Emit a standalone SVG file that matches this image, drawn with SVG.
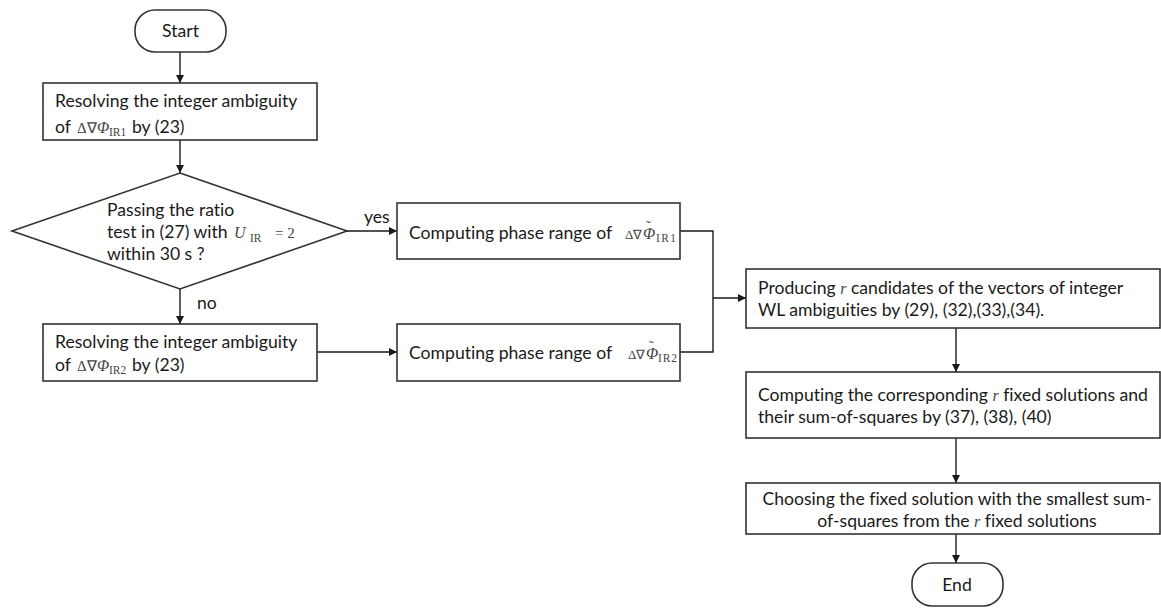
<svg xmlns="http://www.w3.org/2000/svg" width="1161" height="608" viewBox="0 0 1161 608">
<defs>
<marker id="ah" viewBox="0 0 10 10" refX="10" refY="5" markerWidth="8" markerHeight="8" markerUnits="userSpaceOnUse" orient="auto">
<path d="M0,0 L10,5 L0,10 z" fill="#1a1a1a"/>
</marker>
</defs>
<style>
.n{fill:#fff;stroke:#333;stroke-width:1.6}
.t{font-family:Lato,"Liberation Sans",sans-serif;font-size:17.6px;fill:#1a1a1a;font-variant-ligatures:none}
.mt{font-family:"Liberation Serif",serif;fill:#444}
.m{font-size:15px}
.p{font-size:16px;font-style:italic}
.s{font-size:11.5px}
.c{fill:none;stroke:#1a1a1a;stroke-width:1.4}
.a{marker-end:url(#ah)}
</style>
<rect width="1161" height="608" fill="#fff"/>
<g id="connectors">
<line class="c a" x1="180" y1="52" x2="180" y2="83"/>
<line class="c a" x1="180" y1="140" x2="180" y2="173"/>
<line class="c a" x1="180" y1="289" x2="180" y2="324"/>
<line class="c a" x1="347" y1="231" x2="397" y2="231"/>
<line class="c a" x1="317" y1="352" x2="397" y2="352"/>
<polyline class="c" points="680,231 713,231 713,352 680,352"/>
<line class="c a" x1="713" y1="298" x2="746" y2="298"/>
<line class="c a" x1="956" y1="328" x2="956" y2="372"/>
<line class="c a" x1="956" y1="438" x2="956" y2="483"/>
<line class="c a" x1="956" y1="534" x2="956" y2="563"/>
<text class="t" x="364" y="223">yes</text>
<text class="t" x="197" y="309">no</text>
</g>
<g id="start">
<rect class="n" x="135" y="10" width="91" height="42" rx="20"/>
<text class="t" x="180.500" y="37" text-anchor="middle">Start</text>
</g>
<g id="resolve1">
<rect class="n" x="43" y="83" width="274" height="57"/>
<text class="t" x="55" y="107">Resolving the integer ambiguity</text>
<text class="t" x="55" y="133">of<tspan class="mt m" x="77">Δ∇</tspan><tspan class="mt p" x="97">Φ</tspan><tspan class="mt s" x="109" y="136">IR1</tspan><tspan x="132" y="133">by (23)</tspan></text>
</g>
<g id="ratio-test">
<polygon class="n" points="180,173 347,231 180,289 12,231"/>
<text class="t" x="107" y="216">Passing the ratio</text>
<text class="t" x="107" y="238">test in (27) with<tspan class="mt p" x="234" font-size="17px">U</tspan><tspan class="mt s" x="250" y="242" font-size="12.5px">IR</tspan><tspan class="mt m" x="275" y="238">= 2</tspan></text>
<text class="t" x="107" y="260">within 30 s ?</text>
</g>
<g id="resolve2">
<rect class="n" x="43" y="324" width="274" height="57"/>
<text class="t" x="55" y="348">Resolving the integer ambiguity</text>
<text class="t" x="55" y="371">of<tspan class="mt m" x="77">Δ∇</tspan><tspan class="mt p" x="97">Φ</tspan><tspan class="mt s" x="109" y="374">IR2</tspan><tspan x="132" y="371">by (23)</tspan></text>
</g>
<g id="phase1">
<rect class="n" x="397" y="203" width="283" height="56"/>
<text class="t" x="409" y="239">Computing phase range of<tspan class="mt" font-size="13px" x="625">Δ∇</tspan><tspan class="mt p" x="643">Φ</tspan><tspan class="mt s" x="656" y="242" textLength="20">IR1</tspan><tspan class="mt" font-size="14px" x="646" y="231">˜</tspan></text>
</g>
<g id="phase2">
<rect class="n" x="397" y="324" width="283" height="57"/>
<text class="t" x="409" y="359">Computing phase range of<tspan class="mt" font-size="13px" x="628">Δ∇</tspan><tspan class="mt p" x="646">Φ</tspan><tspan class="mt s" x="658" y="362" textLength="19">IR2</tspan><tspan class="mt" font-size="14px" x="649" y="351">˜</tspan></text>
</g>
<g id="candidates">
<rect class="n" x="746" y="269" width="414" height="59"/>
<text class="t" x="758" y="294">Producing <tspan class="mt p" font-size="17px">r</tspan> candidates of the vectors of integer</text>
<text class="t" x="758" y="316">WL ambiguities by (29), (32),(33),(34).</text>
</g>
<g id="fixed-solutions">
<rect class="n" x="746" y="372" width="414" height="66"/>
<text class="t" x="758" y="401">Computing the corresponding <tspan class="mt p" font-size="17px">r</tspan> fixed solutions and</text>
<text class="t" x="758" y="423">their sum-of-squares by (37), (38), (40)</text>
</g>
<g id="choose">
<rect class="n" x="746" y="483" width="414" height="51"/>
<text class="t" x="957" y="505" text-anchor="middle">Choosing the fixed solution with the smallest sum-</text>
<text class="t" x="957" y="527" text-anchor="middle">of-squares from the <tspan class="mt p" font-size="17px">r</tspan> fixed solutions</text>
</g>
<g id="end">
<rect class="n" x="912" y="563" width="91" height="43" rx="20"/>
<text class="t" x="957" y="591" text-anchor="middle">End</text>
</g>
</svg>
